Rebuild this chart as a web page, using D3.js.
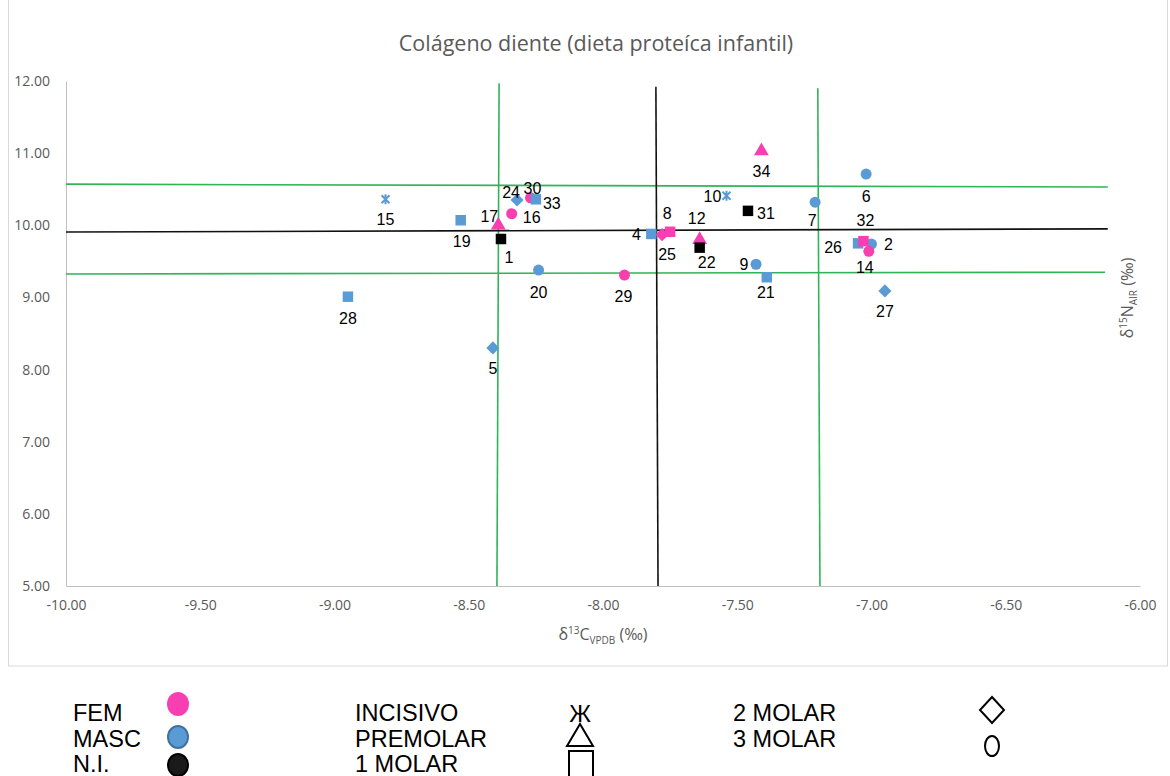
<!DOCTYPE html>
<html>
<head>
<meta charset="utf-8">
<script src="https://cdn.jsdelivr.net/npm/d3@7"></script>
<style>
  body { margin: 0; background: #fff; }
  svg { display: block; }
</style>
</head>
<body>
<svg id="chart" width="1170" height="776"></svg>
<script>
// ---- data: tooth collagen isotope values per individual ----
const sampleIds = [1, 2, 4, 5, 6, 7, 8, 9, 10, 12, 14, 15, 16, 17, 19, 20, 21, 22, 24, 25, 26, 27, 28, 29, 30, 31, 32, 33, 34];
const d13C = [-8.38, -7.00, -7.82, -8.41, -7.02, -7.21, -7.75, -7.43, -7.54, -7.64, -7.01, -8.81, -8.34, -8.39, -8.53, -8.24, -7.39, -7.64, -8.32, -7.78, -7.05, -6.95, -8.95, -7.92, -8.27, -7.46, -7.03, -8.25, -7.41];
const d15N = [9.81, 9.74, 9.88, 8.30, 10.71, 10.32, 9.91, 9.46, 10.41, 9.80, 9.64, 10.36, 10.16, 10.00, 10.07, 9.38, 9.28, 9.69, 10.35, 9.87, 9.75, 9.09, 9.01, 9.31, 10.38, 10.20, 9.78, 10.36, 11.03];
const sexes = ["NI", "MASC", "MASC", "MASC", "MASC", "MASC", "FEM", "MASC", "MASC", "FEM", "FEM", "MASC", "FEM", "FEM", "MASC", "MASC", "MASC", "NI", "MASC", "FEM", "MASC", "MASC", "MASC", "FEM", "FEM", "NI", "FEM", "MASC", "FEM"];
const teeth = ["M1", "M3", "M1", "M2", "M3", "M3", "M1", "M3", "INC", "PM", "M3", "INC", "M3", "PM", "M1", "M3", "M1", "M1", "M2", "M2", "M1", "M2", "M1", "M3", "M3", "M1", "M1", "M1", "PM"];

// mean and ±1 SD guide lines, as [x, y] end points
const meanLineC = [[-7.803, 11.92], [-7.795, 5.0]];
const sdLinesC = [[[-8.387, 11.97], [-8.395, 5.0]], [[-7.200, 11.90], [-7.192, 5.0]]];
const meanLineN = [[-10.0, 9.907], [-6.12, 9.95]];
const sdLinesN = [[[-10.0, 10.57], [-6.12, 10.53]], [[-10.0, 9.325], [-6.13, 9.35]]];

// axes
const xTicks = [-10, -9.5, -9, -8.5, -8, -7.5, -7, -6.5, -6];
const yTicks = [5, 6, 7, 8, 9, 10, 11, 12];

// legend entries
const sexLegend = ["FEM", "MASC", "N.I."];
const toothLegendA = ["INCISIVO", "PREMOLAR", "1 MOLAR"];
const toothLegendB = ["2 MOLAR", "3 MOLAR"];

// label nudges (px) relative to each point, keyed by id
const labelNudge = {
  1: [8, 18], 2: [17, 0], 4: [-15, 0], 5: [0, 20], 6: [0, 22], 7: [-3, 18], 8: [-3, -18],
  9: [-12, 0], 10: [-14, 1], 12: [-3, -21], 14: [-4, 16], 15: [0, 20], 16: [20, 4],
  17: [-9, -9], 19: [1, 21], 20: [0, 22], 21: [-1, 15], 22: [7, 15], 24: [-6, -8],
  25: [5, 20], 26: [-25, 4], 27: [0, 20], 28: [0, 22], 29: [-1, 21], 30: [2, -9],
  31: [18, 3], 32: [2, -21], 33: [16, 4], 34: [0, 20]
};

const sexColor = { FEM: "#f83fb2", MASC: "#5b9bd5", NI: "#000000" };
const green = "#2fb457";

const svg = d3.select("#chart");

// chart frame
svg.append("rect").attr("x", 8.5).attr("y", -1).attr("width", 1159).attr("height", 667)
  .attr("fill", "#fff").attr("stroke", "#d9d9d9").attr("stroke-width", 1);

const x = d3.scaleLinear().domain([-10, -6]).range([66, 1140]);
const y = d3.scaleLinear().domain([5, 12]).range([586, 81]);

const uiFont = "'Open Sans', sans-serif";

// title
svg.append("text").attr("x", 596).attr("y", 51).attr("text-anchor", "middle")
  .attr("font-family", uiFont).attr("font-size", 21.5).attr("fill", "#595959")
  .text("Colágeno diente (dieta proteíca infantil)");

// x axis
const gx = svg.append("g").attr("transform", `translate(0,${y(5)})`)
  .call(d3.axisBottom(x).tickValues(xTicks).tickFormat(d => d.toFixed(2)).tickSize(0).tickPadding(14));
gx.select(".domain").attr("stroke", "#bfbfbf");
gx.selectAll("text").attr("font-family", uiFont).attr("font-size", 14).attr("fill", "#595959");

// y axis
const gy = svg.append("g").attr("transform", `translate(${x(-10)},0)`)
  .call(d3.axisLeft(y).tickValues(yTicks).tickFormat(d => d.toFixed(2)).tickSize(0).tickPadding(16));
gy.select(".domain").attr("stroke", "#bfbfbf");
gy.selectAll("text").attr("font-family", uiFont).attr("font-size", 14).attr("fill", "#595959");

// axis titles
const xt = svg.append("text").attr("x", 603).attr("y", 640).attr("text-anchor", "middle")
  .attr("font-family", uiFont).attr("font-size", 16).attr("fill", "#595959");
xt.append("tspan").text("δ");
xt.append("tspan").attr("font-size", 10).attr("dy", -6).text("13");
xt.append("tspan").attr("dy", 6).text("C");
xt.append("tspan").attr("font-size", 10).attr("dy", 4).text("VPDB");
xt.append("tspan").attr("dy", -4).text(" (‰)");

const yt = svg.append("text").attr("transform", "translate(1133,298) rotate(-90)").attr("text-anchor", "middle")
  .attr("font-family", uiFont).attr("font-size", 16).attr("fill", "#595959");
yt.append("tspan").text("δ");
yt.append("tspan").attr("font-size", 10).attr("dy", -6).text("15");
yt.append("tspan").attr("dy", 6).text("N");
yt.append("tspan").attr("font-size", 10).attr("dy", 4).text("AIR");
yt.append("tspan").attr("dy", -4).text(" (‰)");

// guide lines
const line = d3.line().x(d => x(d[0])).y(d => y(d[1]));
const guides = svg.append("g").attr("fill", "none");
[...sdLinesC, ...sdLinesN].forEach(seg => guides.append("path").attr("d", line(seg)).attr("stroke", green).attr("stroke-width", 1.6));
[meanLineC, meanLineN].forEach(seg => guides.append("path").attr("d", line(seg)).attr("stroke", "#111").attr("stroke-width", 1.6));

// star marker: vertical bar crossed by an X
const symbolStar = {
  draw(ctx, size) {
    const r = Math.sqrt(size) / 2;
    const k = r * 0.8;
    ctx.moveTo(0, -r); ctx.lineTo(0, r);
    ctx.moveTo(-k, -k); ctx.lineTo(k, k);
    ctx.moveTo(-k, k); ctx.lineTo(k, -k);
  }
};

const shapeOf = { INC: symbolStar, PM: d3.symbolTriangle, M1: d3.symbolSquare, M2: d3.symbolDiamond2, M3: d3.symbolCircle };
const sizeOf = { INC: 100, PM: 95, M1: 110, M2: 110, M3: 95 };

const points = sampleIds.map((id, i) => ({ id, cx: d13C[i], ny: d15N[i], sex: sexes[i], tooth: teeth[i] }));

const gp = svg.append("g");
points.forEach(p => {
  const col = sexColor[p.sex];
  const path = gp.append("path")
    .attr("transform", `translate(${x(p.cx)},${y(p.ny)})`)
    .attr("d", d3.symbol(shapeOf[p.tooth], sizeOf[p.tooth])());
  if (p.tooth === "INC") {
    path.attr("fill", "none").attr("stroke", col).attr("stroke-width", 2);
  } else {
    path.attr("fill", col);
  }
});

// data labels
const gl = svg.append("g").attr("font-family", "'Liberation Sans', Arial, sans-serif").attr("font-size", 16).attr("fill", "#000");
points.forEach(p => {
  const n = labelNudge[p.id] || [0, 20];
  gl.append("text").attr("x", x(p.cx) + n[0]).attr("y", y(p.ny) + n[1]).attr("dy", "0.35em")
    .attr("text-anchor", "middle").text(p.id);
});

// legend
const lg = svg.append("g").attr("font-family", "'Liberation Sans', Arial, sans-serif").attr("font-size", 23.5).attr("fill", "#000");
const rowY = [721, 747, 772];
sexLegend.forEach((s, i) => lg.append("text").attr("x", 73).attr("y", rowY[i]).text(s));
const legendSex = ["FEM", "MASC", "NI"];
const dotY = [704, 737, 765];
legendSex.forEach((s, i) => {
  lg.append("ellipse").attr("cx", 178).attr("cy", dotY[i]).attr("rx", 10).attr("ry", 11)
    .attr("fill", s === "NI" ? "#1a1a1a" : sexColor[s])
    .attr("stroke", s === "MASC" ? "#41719c" : (s === "NI" ? "#000" : sexColor[s])).attr("stroke-width", 2);
});
toothLegendA.forEach((s, i) => lg.append("text").attr("x", 355).attr("y", rowY[i]).text(s));
toothLegendB.forEach((s, i) => lg.append("text").attr("x", 733).attr("y", rowY[i]).text(s));

// tooth shape keys
lg.append("text").attr("x", 580).attr("y", 722).attr("text-anchor", "middle").text("Ж");
lg.append("path").attr("d", "M580,724 L567,746 L593,746 Z").attr("fill", "none").attr("stroke", "#000").attr("stroke-width", 2);
lg.append("path").attr("d", "M569,780 V751 H593 V780").attr("fill", "none").attr("stroke", "#000").attr("stroke-width", 2);
lg.append("path").attr("d", "M992,697 L1004,710 L992,723 L980,710 Z").attr("fill", "none").attr("stroke", "#000").attr("stroke-width", 2);
lg.append("ellipse").attr("cx", 992).attr("cy", 746).attr("rx", 7).attr("ry", 10).attr("fill", "none").attr("stroke", "#000").attr("stroke-width", 2);
</script>
</body>
</html>
